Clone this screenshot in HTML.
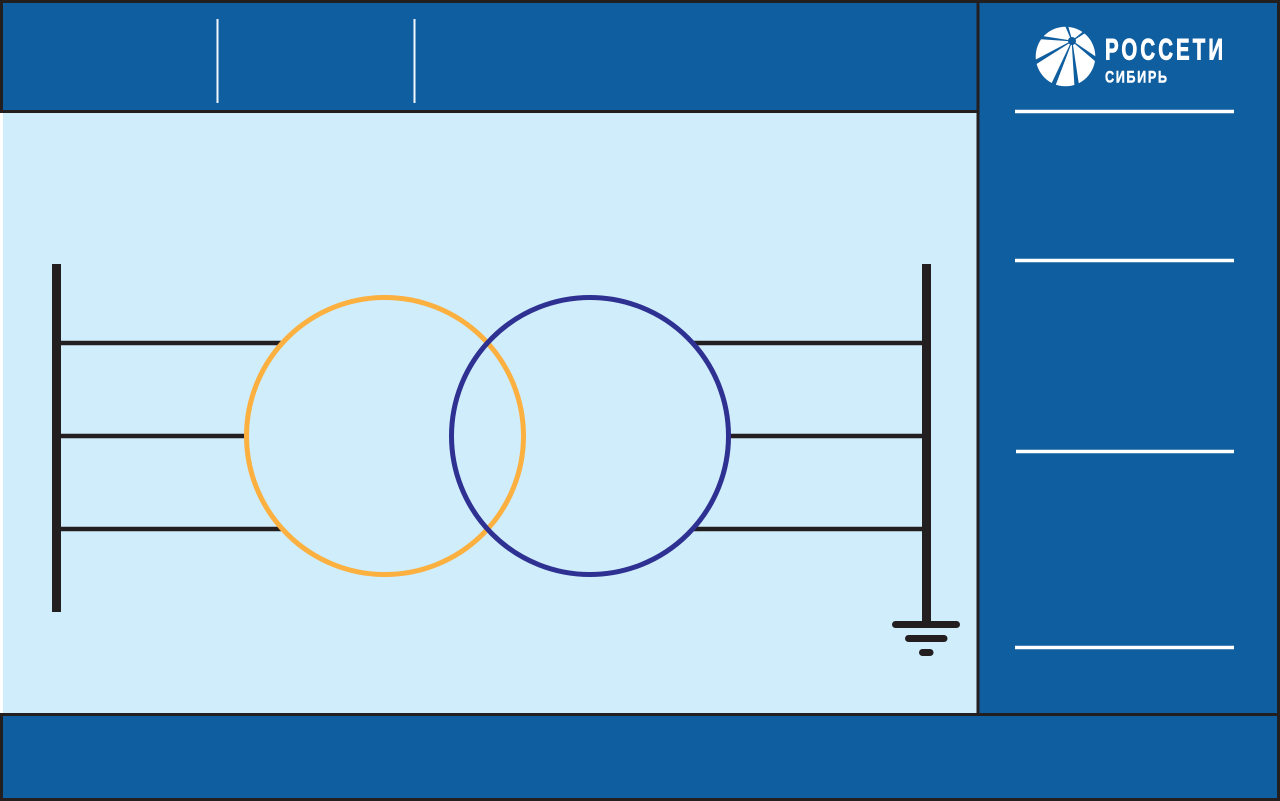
<!DOCTYPE html>
<html lang="ru">
<head>
<meta charset="utf-8">
<title>Трансформатор</title>
<style>
html,body{margin:0;padding:0;background:#fff;width:1280px;height:801px;overflow:hidden}
svg{display:block}
</style>
</head>
<body>
<svg xmlns="http://www.w3.org/2000/svg" width="1280" height="801" viewBox="0 0 1280 801">
  <rect x="0" y="0" width="1280" height="801" fill="#0f5e9f"/>
  <rect x="0" y="113" width="3" height="600" fill="#ffffff"/>
  <rect x="3" y="113" width="974" height="600" fill="#d0edfb"/>

  <g fill="none" stroke="#231f20" stroke-width="3">
    <line x1="0" y1="1.5" x2="1280" y2="1.5"/>
    <line x1="0" y1="799.5" x2="1280" y2="799.5"/>
    <line x1="1278.5" y1="0" x2="1278.5" y2="801"/>
    <line x1="1.5" y1="0" x2="1.5" y2="113"/>
    <line x1="1.5" y1="713" x2="1.5" y2="801"/>
    <line x1="0" y1="111.5" x2="978" y2="111.5"/>
    <line x1="978" y1="0" x2="978" y2="715"/>
    <line x1="0" y1="714.5" x2="1280" y2="714.5"/>
  </g>

  <g stroke="#f2f8fc" stroke-width="2">
    <line x1="217.5" y1="19" x2="217.5" y2="103"/>
    <line x1="414.5" y1="19" x2="414.5" y2="103"/>
  </g>

  <g stroke="#ffffff" stroke-width="3.4">
    <line x1="1015" y1="111.5" x2="1234" y2="111.5"/>
    <line x1="1015" y1="260.5" x2="1234" y2="260.5"/>
    <line x1="1016" y1="451.5" x2="1234" y2="451.5"/>
    <line x1="1015" y1="647.5" x2="1234" y2="647.5"/>
  </g>

  <g>
    <circle cx="1065.5" cy="56.5" r="29.8" fill="#ffffff"/>
    <g fill="#0f5e9f" stroke="#0f5e9f" stroke-width="0.8">
      <polygon points="1072,41 1067.1,23.6 1064.9,24.4"/>
      <polygon points="1072,41 1036.2,35.5 1035.8,38.5"/>
      <polygon points="1072,41 1034.9,64.6 1033.1,61.4"/>
      <polygon points="1072,41 1053.8,88.8 1050.2,87.2"/>
      <polygon points="1072,41 1079,87.8 1075,88.2"/>
      <polygon points="1072,41 1098,58.6 1096,61.4"/>
      <polygon points="1072,41 1090.7,29 1089.3,27"/>
    </g>
    <circle cx="1072" cy="41" r="4" fill="#0f5e9f"/>
    <text transform="translate(1105 59.5) scale(0.68 1)" x="0" y="0" font-family="'Liberation Sans',sans-serif" font-weight="700" font-size="30" fill="#ffffff" stroke="#ffffff" stroke-width="0.9" textLength="173.5" lengthAdjust="spacing">РОССЕТИ</text>
    <text transform="translate(1105 82.7) scale(0.78 1)" x="0" y="0" font-family="'Liberation Sans',sans-serif" font-weight="700" font-size="16.3" fill="#ffffff" stroke="#ffffff" stroke-width="0.4" textLength="79.5" lengthAdjust="spacing">СИБИРЬ</text>
  </g>

  <g fill="#231f20">
    <rect x="52" y="264" width="9" height="348"/>
    <rect x="922" y="264" width="9" height="360"/>
  </g>

  <g stroke="#231f20" stroke-width="4.4" fill="none">
    <line x1="60" y1="343" x2="281" y2="343"/>
    <line x1="60" y1="436" x2="246" y2="436"/>
    <line x1="60" y1="529" x2="281" y2="529"/>
  </g>
  <g stroke="#231f20" stroke-width="4.4" fill="none">
    <line x1="694" y1="343" x2="923" y2="343"/>
    <line x1="728" y1="436" x2="923" y2="436"/>
    <line x1="693" y1="529" x2="923" y2="529"/>
  </g>

  <circle cx="385" cy="436" r="138.5" fill="none" stroke="#fbb040" stroke-width="5"/>
  <circle cx="590" cy="436" r="138.5" fill="none" stroke="#2e3192" stroke-width="5"/>

  <g stroke="#231f20" stroke-width="7" stroke-linecap="round">
    <line x1="895.5" y1="624.5" x2="956.5" y2="624.5"/>
    <line x1="908.5" y1="638.5" x2="944" y2="638.5"/>
    <line x1="922.5" y1="652.5" x2="930" y2="652.5"/>
  </g>
</svg>
</body>
</html>
